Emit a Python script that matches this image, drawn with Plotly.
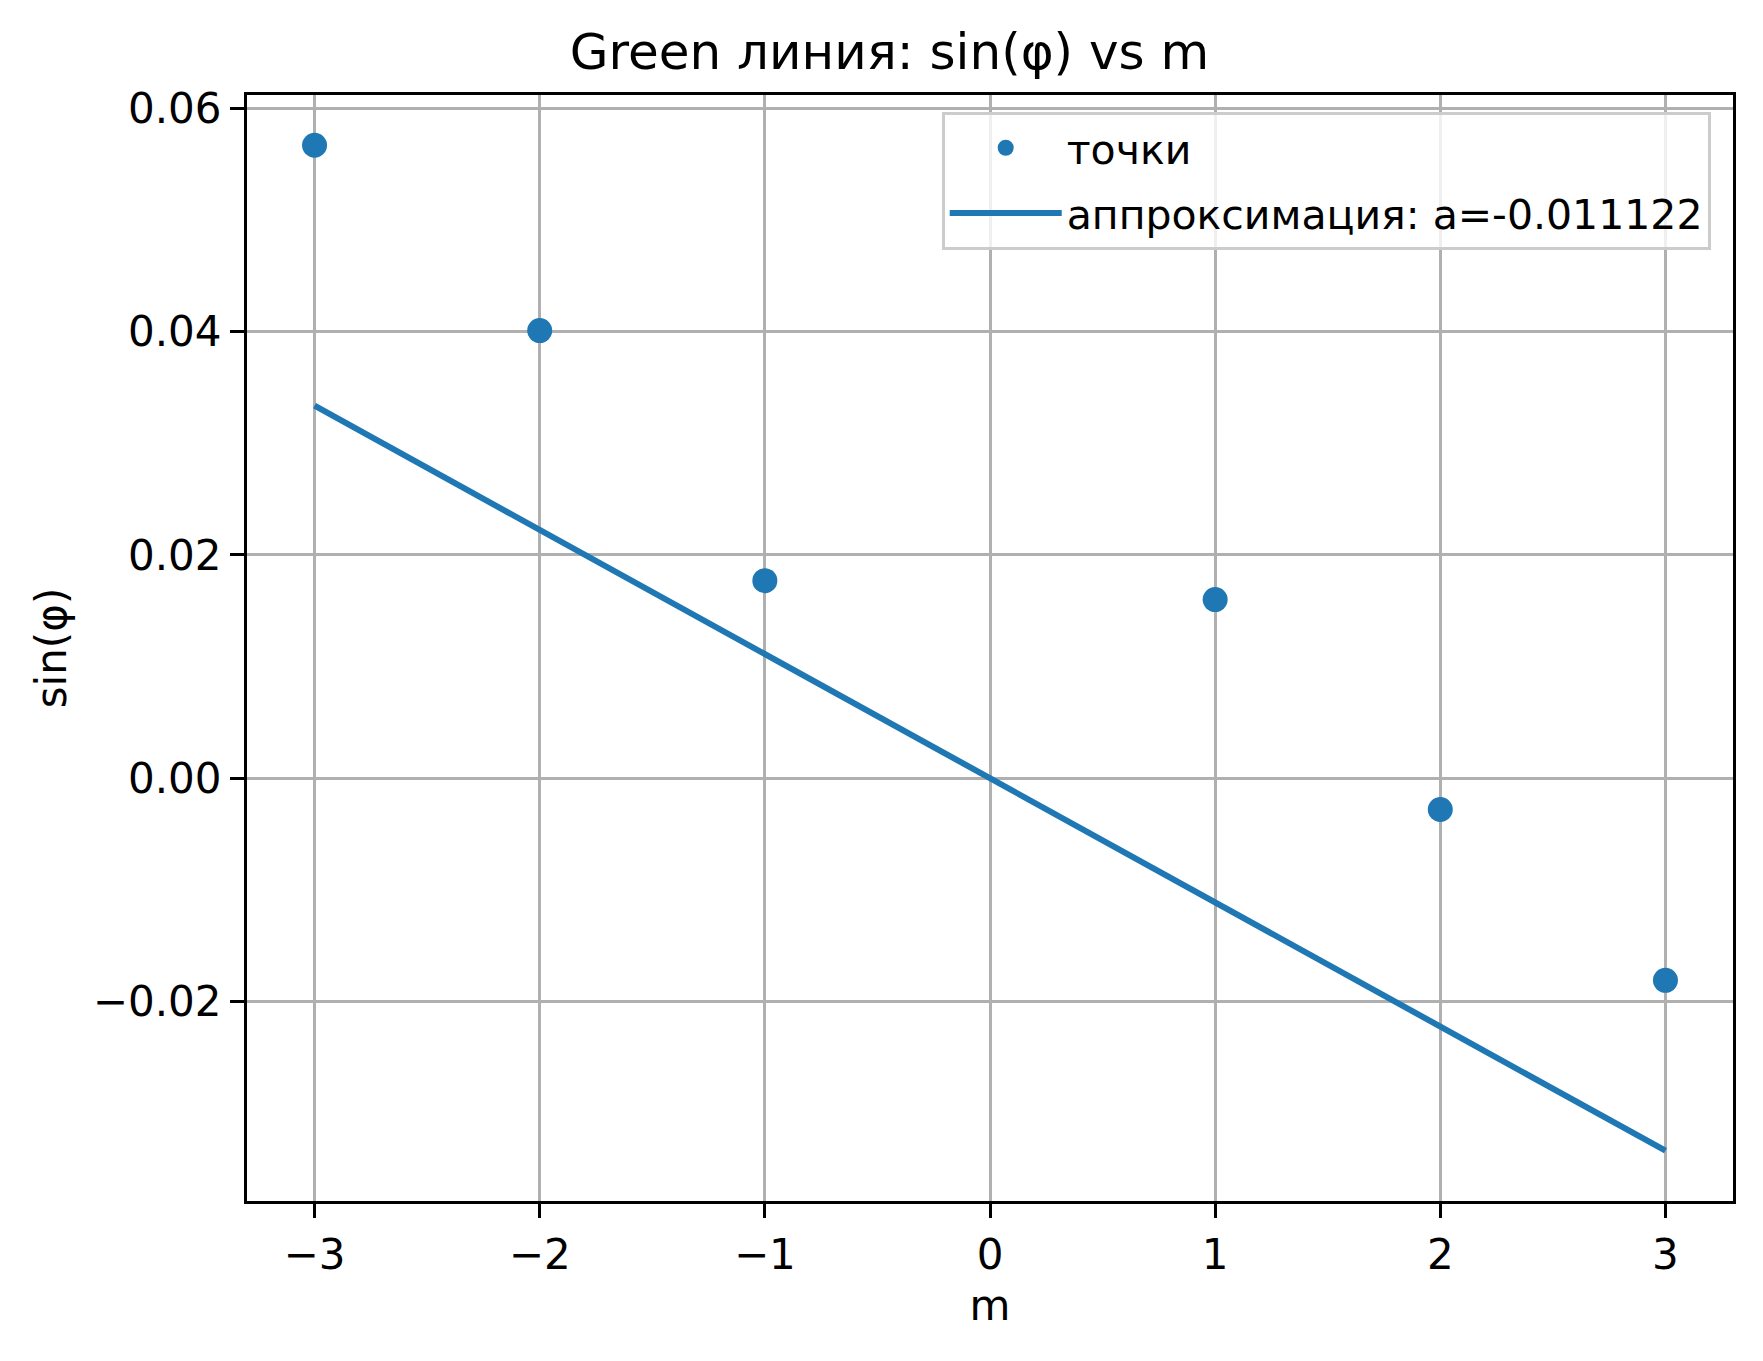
import plotly.graph_objects as go

# data
m_vals = [-3, -2, -1, 1, 2, 3]
sin_phi = [0.0567, 0.0401, 0.0177, 0.0160, -0.0028, -0.0181]
a_fit = -0.011122
fit_x = [-3, 3]
fit_y = [a_fit * x for x in fit_x]

x_ticks = [-3, -2, -1, 0, 1, 2, 3]
x_ticktext = ['\u22123', '\u22122', '\u22121', '0', '1', '2', '3']
y_ticks = [-0.02, 0.0, 0.02, 0.04, 0.06]
y_ticktext = ['\u22120.02', '0.00', '0.02', '0.04', '0.06']

blue = '#1f77b4'
font = 'DejaVu Sans'

fig = go.Figure()
fig.add_trace(go.Scatter(x=m_vals, y=sin_phi, mode='markers', name='точки',
                         legendgroup='pts',
                         marker=dict(color=blue, size=25)))
fig.add_trace(go.Scatter(x=fit_x, y=fit_y, mode='lines',
                         name='аппроксимация: a=%.6f' % a_fit,
                         legendgroup='fit',
                         line=dict(color=blue, width=6)))

axis_style = dict(showgrid=True, gridcolor='#b0b0b0', gridwidth=3.2,
                  zeroline=False, showline=True, linecolor='black', linewidth=3.3,
                  mirror=True, ticks='outside', ticklen=14, tickwidth=3.3,
                  tickcolor='black', tickfont=dict(family=font, size=42, color='black'))

fig.update_xaxes(range=[-3.3, 3.3], tickvals=x_ticks, ticktext=x_ticktext,
                 title=dict(text='m', font=dict(family=font, size=42, color='black'), standoff=14),
                 **axis_style)
fig.update_yaxes(range=[-0.03787, 0.0612], tickvals=y_ticks, ticktext=y_ticktext,
                 title=dict(text='sin(φ)', font=dict(family=font, size=42, color='black'), standoff=14),
                 **axis_style)

fig.update_layout(
    width=1763, height=1361,
    margin=dict(l=239, r=38, t=87, b=168),
    plot_bgcolor='white', paper_bgcolor='white',
    font=dict(family=font, size=42, color='black'),
    title=dict(text='Green линия: sin(φ) vs m', x=0.5, xanchor='center',
               y=1 - 43 / 1361, yanchor='middle',
               font=dict(family=font, size=50, color='black')),
    legend=dict(x=0.985, xanchor='right', y=0.985, yanchor='top',
                bordercolor='#cccccc', borderwidth=3, bgcolor='rgba(255,255,255,0.8)',
                font=dict(family=font, size=41, color='black'),
                itemwidth=112, tracegroupgap=9),
    showlegend=True,
)

fig.write_html("out.html")
